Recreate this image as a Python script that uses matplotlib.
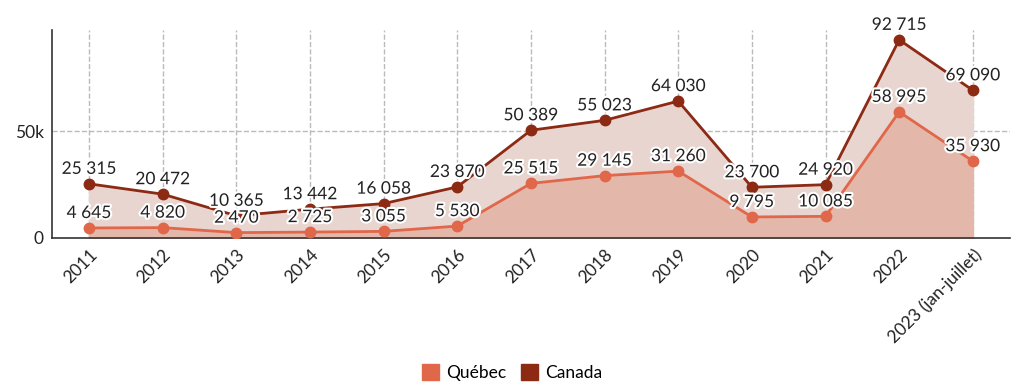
import matplotlib.pyplot as plt
import matplotlib.patheffects as pe
import numpy as np
from matplotlib.patches import Patch

plt.rcParams['font.family'] = ['Lato', 'DejaVu Sans']

years = ['2011', '2012', '2013', '2014', '2015', '2016', '2017', '2018',
         '2019', '2020', '2021', '2022', '2023 (jan-juillet)']
quebec = [4645, 4820, 2470, 2725, 3055, 5530, 25515, 29145, 31260,
          9795, 10085, 58995, 35930]
canada = [25315, 20472, 10365, 13442, 16058, 23870, 50389, 55023, 64030,
          23700, 24920, 92715, 69090]

col_qc = '#e0674a'
col_ca = '#8c2a14'


def fmt(v):
    return f'{v:,}'.replace(',', ' ')


fig = plt.figure(figsize=(10.24, 3.9), dpi=100)
ax = fig.add_axes([0.051, 0.39, 0.935, 0.533])
x = np.arange(len(years))

ax.fill_between(x, canada, color='#e8d5cf', zorder=1)
ax.fill_between(x, quebec, color='#e3b8ab', zorder=2)
ax.plot(x, canada, color=col_ca, lw=2, marker='o', ms=7.5, zorder=4)
ax.plot(x, quebec, color=col_qc, lw=2, marker='o', ms=7.5, zorder=4)

stroke = [pe.withStroke(linewidth=3, foreground='white')]
for xi, v in zip(x, canada):
    ax.annotate(fmt(v), (xi, v), xytext=(0, 5), textcoords='offset points',
                ha='center', va='bottom', fontsize=12.5, color='#222222',
                path_effects=stroke, zorder=5)
for xi, v in zip(x, quebec):
    ax.annotate(fmt(v), (xi, v), xytext=(0, 5), textcoords='offset points',
                ha='center', va='bottom', fontsize=12.5, color='#222222',
                path_effects=stroke, zorder=5)

ax.set_xlim(-0.5, 12.5)
ax.set_ylim(0, 97300)
ax.set_yticks([0, 50000])
ax.set_yticklabels(['0', '50k'])
ax.set_xticks(x)
ax.set_xticklabels(years, rotation=45, ha='right', rotation_mode='anchor')
ax.tick_params(length=0, labelsize=12.5, colors='#222222', pad=6)
for xi in x:
    ax.axvline(xi, color='#bbbbbb', ls='--', lw=1, zorder=0)
ax.axhline(50000, color='#bbbbbb', ls='--', lw=1, zorder=0)
for s in ['top', 'right']:
    ax.spines[s].set_visible(False)
ax.spines['left'].set_color('#333333')
ax.spines['bottom'].set_color('#333333')
ax.spines['left'].set_linewidth(1.2)
ax.spines['bottom'].set_linewidth(1.2)

handles = [Patch(color=col_qc, label='Québec'), Patch(color=col_ca, label='Canada')]
fig.legend(handles=handles, loc='center', bbox_to_anchor=(0.5, 0.045), ncol=2,
           frameon=False, fontsize=12.5, handlelength=1, handleheight=1,
           handletextpad=0.4, columnspacing=0.8)

fig.savefig('out.png', dpi=100)
